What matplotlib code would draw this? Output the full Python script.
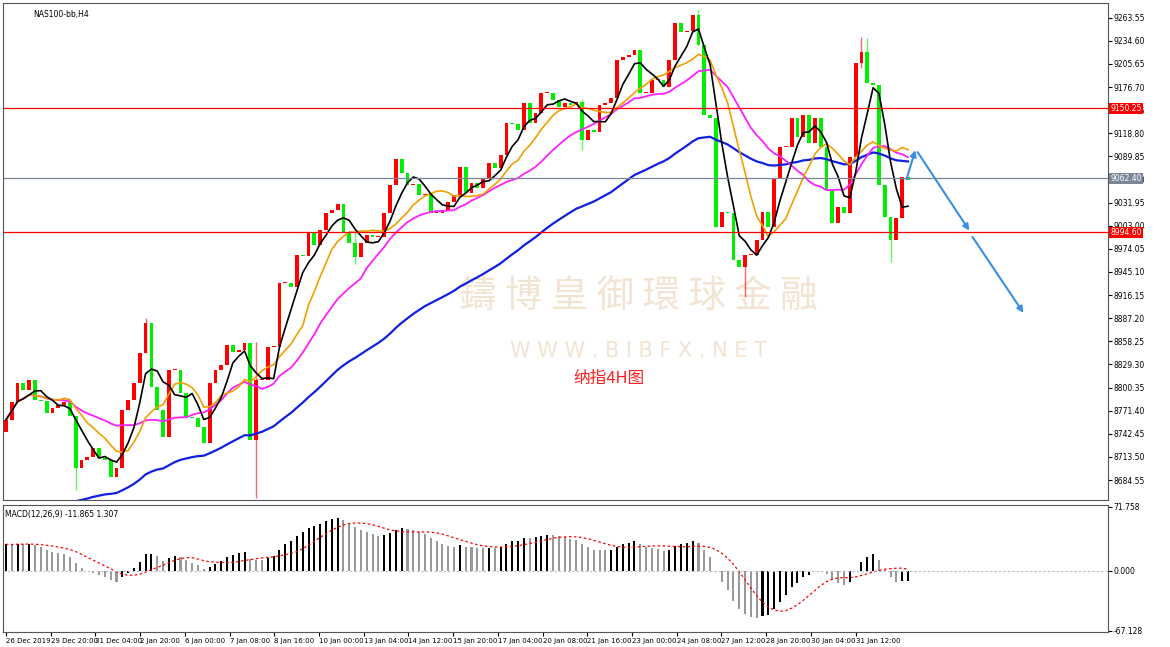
import numpy as np
import pandas as pd
import matplotlib
matplotlib.use("Agg")
import matplotlib.pyplot as plt
import matplotlib.transforms as mtrans

plt.rcParams['font.family'] = ['DejaVu Sans', 'Noto Sans CJK TC']

# closing prices of the H4 candles (open = previous close)
closes = [8759.8, 8782.4, 8806.2, 8797.4, 8810.0, 8784.9, 8783.6, 8768.6, 8774.9, 8778.6,
          8782.4, 8764.9, 8699.7, 8709.7, 8713.5, 8724.8, 8712.2, 8709.7, 8688.4, 8699.7,
          8772.4, 8784.9, 8806.2, 8843.8, 8881.4, 8801.2, 8772.4, 8738.5, 8822.5, 8822.5,
          8793.7, 8763.6, 8762.3, 8751.1, 8731.0, 8806.2, 8822.5, 8828.8, 8853.8, 8845.0,
          8847.5, 8856.3, 8734.8, 8810.0, 8810.0, 8851.3, 8851.3, 8931.5, 8931.5, 8926.5,
          8966.6, 8965.3, 8994.2, 8979.1, 8997.9, 9019.2, 9023.0, 9030.5, 8994.2, 8981.6,
          8964.1, 8981.6, 8991.6, 8989.1, 8989.1, 9019.2, 9054.3, 9086.9, 9069.3, 9054.3,
          9055.5, 9041.8, 9043.0, 9019.2, 9019.2, 9023.0, 9033.0, 9041.8, 9076.8, 9044.3,
          9056.8, 9050.5, 9063.1, 9081.9, 9075.6, 9091.9, 9132.0, 9130.7, 9123.2, 9157.0,
          9132.0, 9144.5, 9169.6, 9169.6, 9160.8, 9152.0, 9157.0, 9154.5, 9158.3, 9110.7,
          9123.2, 9120.7, 9154.5, 9157.0, 9163.3, 9210.9, 9214.7, 9217.2, 9223.4, 9169.6,
          9169.6, 9185.9, 9185.9, 9177.1, 9210.9, 9257.3, 9246.0, 9247.3, 9267.3, 9229.7,
          9142.0, 9138.2, 9001.7, 9020.5, 9019.2, 8960.3, 8951.5, 8966.6, 8966.6, 8985.4,
          9020.5, 9001.7, 9063.1, 9101.9, 9101.9, 9138.2, 9114.4, 9142.0, 9106.9, 9138.2,
          9101.9, 9048.0, 9006.7, 9026.7, 9019.2, 9089.4, 9207.2, 9220.9, 9182.1, 9179.6,
          9054.3, 9014.2, 8985.4, 9012.9, 9064.3, 9060.6]
first_open = 8745.0
# notable wicks: index -> (high, low)
wicks = {43: (8858, 8662), 119: (9273, 9260), 127: (8960, 8914), 147: (9240, 9200),
         148: (9238, 9215), 152: (8990, 8958), 24: (8888, 8860), 12: (8712, 8672),
         60: (8995, 8955), 99: (9162, 9098)}
blue_start = 8600.0

date_labels = ["26 Dec 2019", "29 Dec 20:00", "31 Dec 04:00", "2 Jan 20:00", "6 Jan 00:00",
               "7 Jan 08:00", "8 Jan 16:00", "10 Jan 00:00", "13 Jan 04:00", "14 Jan 12:00",
               "15 Jan 20:00", "17 Jan 04:00", "20 Jan 08:00", "21 Jan 16:00", "23 Jan 00:00",
               "24 Jan 08:00", "27 Jan 12:00", "28 Jan 20:00", "30 Jan 04:00", "31 Jan 12:00"]
price_ticks = [9263.55, 9234.60, 9205.65, 9176.70, 9147.75, 9118.80, 9089.85, 9060.90,
               9031.95, 9003.00, 8974.05, 8945.10, 8916.15, 8887.20, 8858.25, 8829.30,
               8800.35, 8771.40, 8742.45, 8713.50, 8684.55]
hlines = [(9150.25, '#ff0000'), (9062.40, '#7b8797'), (8994.60, '#ff0000')]
arrow_pts = [((154.6, 9058), (156.4, 9101)), ((156.4, 9098), (165.8, 8994)),
             ((165.8, 8992), (175.1, 8891))]

c = pd.Series(closes)
o = c.shift(1).fillna(first_open)
n = len(c)
idx = np.arange(n)

ma5 = c.rolling(5, min_periods=1).mean()
ma10 = c.rolling(10, min_periods=1).mean()
ma20 = c.rolling(20, min_periods=1).mean()
a = 2 / 61
blue = [blue_start]
for v in closes[1:]:
    blue.append(a * v + (1 - a) * blue[-1])

macd = c.ewm(span=12, adjust=False).mean() - c.ewm(span=26, adjust=False).mean()
macd = macd + 30 * np.exp(-idx / 12.0)  # history before the visible window
signal = macd.rolling(9, min_periods=1).mean()

fig = plt.figure(figsize=(11.7, 6.47), dpi=100)
W, H = 1170, 647
ax = fig.add_axes([3 / W, (H - 500) / H, 1105 / W, 497 / H])
axm = fig.add_axes([3 / W, 15 / H, 1105 / W, 127 / H])
xmax = 1105 / 5.82 - 0.5

for i in range(n):
    up = c[i] >= o[i]
    col = '#ff0000' if up else '#00ee00'
    lo, hi = min(o[i], c[i]), max(o[i], c[i])
    if i in wicks:
        h, l = wicks[i]
        ax.vlines(i, min(l, lo), max(h, hi), color=col, lw=1, alpha=0.6)
    ax.bar(i, max(hi - lo, 1.2), bottom=lo, width=0.65, color=col, lw=0)

ax.plot(idx, blue, color='#1020e0', lw=1.6)
ax.plot(idx, ma20, color='#ff20ff', lw=1.3)
ax.plot(idx, ma10, color='#f0a000', lw=1.2)
ax.plot(idx, ma5, color='black', lw=1.2)

for val, col in hlines:
    ax.axhline(val, color=col, lw=0.9)
    ax.text(1.002, val, f"{val:.2f}", transform=mtrans.blended_transform_factory(ax.transAxes, ax.transData),
            fontsize=5.5, color='white', va='center', ha='left', zorder=10, clip_on=False,
            bbox=dict(boxstyle='square,pad=0.15', fc=col, ec='none'))

for (x0, y0), (x1, y1) in arrow_pts:
    ax.annotate('', xy=(x1, y1), xytext=(x0, y0),
                arrowprops=dict(arrowstyle='-|>', color='#3a8ee6', lw=1.5, mutation_scale=9))

ax.set_xlim(-0.5, xmax)
ax.set_ylim(8659.5, 9282)
ax.yaxis.tick_right()
ax.set_yticks(price_ticks)
ax.set_yticklabels([f"{v:.2f}" for v in price_ticks], fontsize=5.5)
ax.set_xticks([])
ax.tick_params(axis='y', length=3, pad=1)
for s in ax.spines.values():
    s.set_color('#555555')

# watermark
ax.text(0.575, 0.41, "鑄 博 皇 御 環 球 金 融", transform=ax.transAxes, fontsize=27,
        color='#f2e4d2', ha='center', va='center', family=['Noto Sans CJK TC'], zorder=0)
ax.text(0.575, 0.30, "W W W . B I B F X . N E T", transform=ax.transAxes, fontsize=15,
        color='#f2e4d2', ha='center', va='center', zorder=0)
ax.text(0.548, 0.245, "纳指4H图", transform=ax.transAxes, fontsize=12,
        color='#ff2020', ha='center', va='center', family=['Noto Sans CJK SC'])
ax.text(0.027, 0.985, "NAS100-bb,H4", transform=ax.transAxes, fontsize=5.5, va='top')

cols = ['black' if i == 0 or macd[i] >= macd[i - 1] else '#999999' for i in range(n)]
axm.bar(idx, macd, width=0.35, color=cols)
axm.plot(idx, signal, color='#ff0000', lw=0.9, ls=(0, (2, 2)))
axm.axhline(0, color='#b8bec6', lw=0.8, ls=(0, (2, 2)))
axm.set_xlim(-0.5, xmax)
axm.set_ylim(-68.5, 74)
axm.yaxis.tick_right()
axm.set_yticks([71.758, 0.0, -67.128])
axm.set_yticklabels(["71.758", "0.000", "-67.128"], fontsize=5.5)
axm.set_xticks(np.linspace(0, 146, len(date_labels)))
axm.set_xticklabels(date_labels, fontsize=5, ha='left')
axm.tick_params(length=3, pad=1)
axm.text(0.002, 0.96, "MACD(12,26,9) -11.865 1.307", transform=axm.transAxes, fontsize=5.5, va='top')
for s in axm.spines.values():
    s.set_color('#555555')

fig.savefig("out.png", dpi=100)
